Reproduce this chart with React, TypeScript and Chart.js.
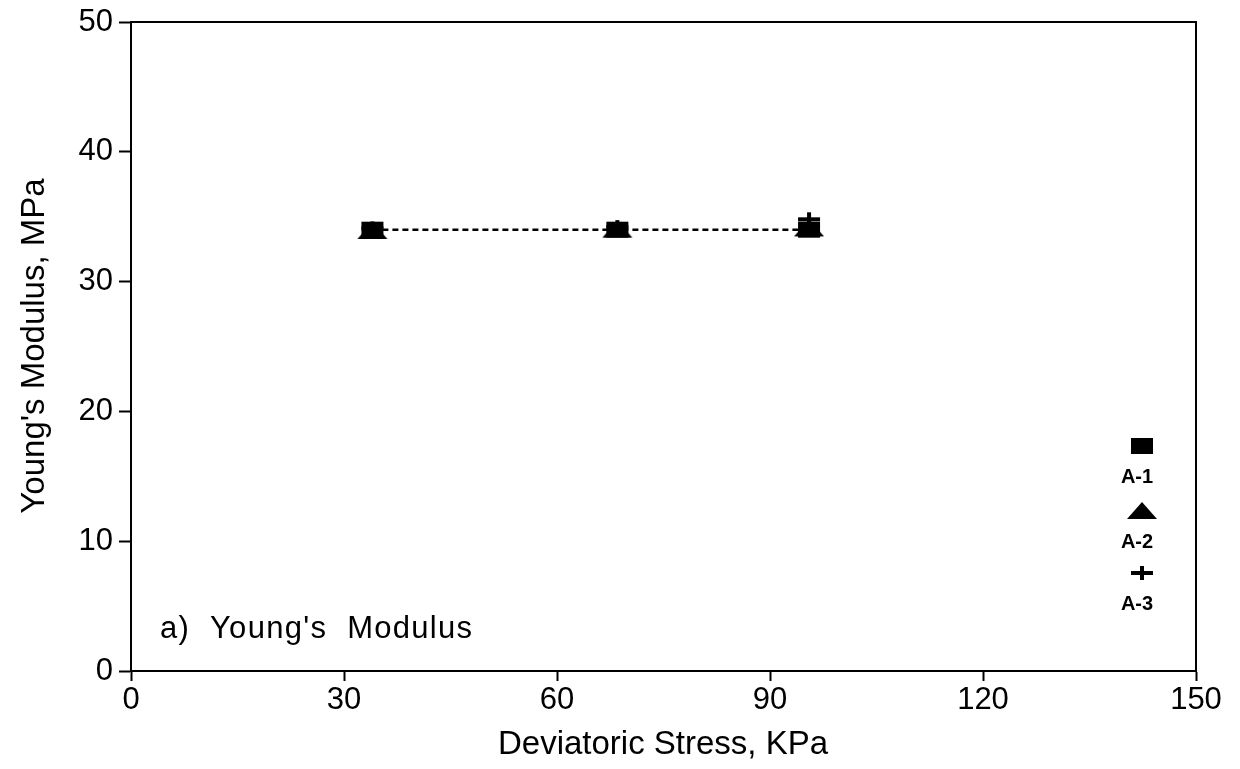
import React, { useEffect, useRef } from "react";
import { Chart, registerables } from "chart.js";

Chart.register(...registerables);

// Deviatoric stress (KPa) at each load step
const stressA1 = [34, 68.5, 95.5];
const stressA2 = [34, 68.5, 95.5];
const stressA3 = [34, 68.5, 95.5];

// Young's modulus (MPa) per specimen
const modulusA1 = [34.0, 34.0, 34.0];
const modulusA2 = [33.9, 34.0, 34.1];
const modulusA3 = [34.1, 34.2, 34.8];

const seriesNames = ["A-1", "A-2", "A-3"];
const xTicks = [0, 30, 60, 90, 120, 150];
const yTicks = [0, 10, 20, 30, 40, 50];

const xTitle = "Deviatoric Stress, KPa";
const yTitle = "Young's Modulus, MPa";
const panelLabel = "a)  Young's  Modulus";

const FONT = "'Liberation Sans', Arial, Helvetica, sans-serif";

function makeMarker(kind: string): HTMLCanvasElement {
  const c = document.createElement("canvas");
  const w = 32;
  const h = 24;
  c.width = w;
  c.height = h;
  const ctx = c.getContext("2d")!;
  ctx.fillStyle = "#000";
  ctx.strokeStyle = "#000";
  if (kind === "rect") {
    ctx.fillRect(w / 2 - 11, h / 2 - 8, 22, 16);
  } else if (kind === "tri") {
    ctx.beginPath();
    ctx.moveTo(w / 2, h / 2 - 9);
    ctx.lineTo(w / 2 + 15, h / 2 + 8);
    ctx.lineTo(w / 2 - 15, h / 2 + 8);
    ctx.closePath();
    ctx.fill();
  } else {
    ctx.lineWidth = 4;
    ctx.beginPath();
    ctx.moveTo(w / 2 - 11, h / 2);
    ctx.lineTo(w / 2 + 11, h / 2);
    ctx.moveTo(w / 2, h / 2 - 7);
    ctx.lineTo(w / 2, h / 2 + 7);
    ctx.stroke();
  }
  return c;
}

export default function App() {
  const canvasRef = useRef<HTMLCanvasElement | null>(null);

  useEffect(() => {
    document.body.style.margin = "0";
    const canvas = canvasRef.current;
    if (!canvas) return;

    const markers = [makeMarker("rect"), makeMarker("tri"), makeMarker("plus")];

    const framePlugin = {
      id: "frameAndText",
      afterDraw(chart: any) {
        const { ctx, chartArea } = chart;
        const { left, right, top, bottom } = chartArea;
        ctx.save();
        // top and right frame lines
        ctx.strokeStyle = "#000";
        ctx.lineWidth = 2;
        ctx.beginPath();
        ctx.moveTo(left, top);
        ctx.lineTo(right, top);
        ctx.lineTo(right, bottom);
        ctx.stroke();

        ctx.fillStyle = "#000";
        // axis titles
        ctx.font = `33px ${FONT}`;
        ctx.textAlign = "center";
        ctx.textBaseline = "alphabetic";
        ctx.fillText(xTitle, 663, 754);
        ctx.save();
        ctx.translate(44, 346);
        ctx.rotate(-Math.PI / 2);
        ctx.fillText(yTitle, 0, 0);
        ctx.restore();

        // panel label
        ctx.font = `31px ${FONT}`;
        ctx.textAlign = "left";
        (ctx as any).letterSpacing = "1.3px";
        ctx.fillText(panelLabel, 160, 638);
        (ctx as any).letterSpacing = "0px";

        // legend: marker above name, stacked
        const legendRows = [
          { my: 446, ty: 483 },
          { my: 511, ty: 548 },
          { my: 573, ty: 610 },
        ];
        ctx.font = `bold 20px ${FONT}`;
        ctx.textAlign = "center";
        legendRows.forEach((row, i) => {
          const m = markers[i];
          ctx.drawImage(m, 1142 - m.width / 2, row.my - m.height / 2);
          ctx.fillText(seriesNames[i], 1137, row.ty);
        });
        ctx.restore();
      },
    };

    const toPoints = (xs: number[], ys: number[]) => xs.map((x, i) => ({ x, y: ys[i] }));

    const chart = new Chart(canvas, {
      type: "scatter",
      data: {
        datasets: [
          {
            label: seriesNames[0],
            data: toPoints(stressA1, modulusA1),
            showLine: true,
            borderColor: "#000",
            borderWidth: 2.5,
            borderDash: [6, 4],
            pointStyle: markers[0],
            pointRadius: 10,
          },
          {
            label: seriesNames[1],
            data: toPoints(stressA2, modulusA2),
            showLine: false,
            pointStyle: markers[1],
            pointRadius: 10,
          },
          {
            label: seriesNames[2],
            data: toPoints(stressA3, modulusA3),
            showLine: false,
            pointStyle: markers[2],
            pointRadius: 10,
          },
        ],
      },
      options: {
        responsive: false,
        animation: false,
        devicePixelRatio: 1,
        layout: { padding: { left: 0, top: 22, right: 44, bottom: 0 } },
        plugins: {
          legend: { display: false },
          tooltip: { enabled: false },
          title: { display: false },
        },
        scales: {
          x: {
            type: "linear",
            min: 0,
            max: 150,
            afterBuildTicks: (scale: any) => {
              scale.ticks = xTicks.map((v) => ({ value: v }));
            },
            afterFit: (scale: any) => {
              scale.height = 98;
              scale.paddingRight = 0;
              scale.paddingLeft = 0;
            },
            border: { display: true, color: "#000", width: 2 },
            grid: {
              drawOnChartArea: false,
              drawTicks: true,
              tickLength: 10,
              tickWidth: 2,
              tickColor: "#000",
            },
            ticks: {
              color: "#000",
              font: { family: FONT, size: 31 },
              padding: 1,
              maxRotation: 0,
              autoSkip: false,
            },
          },
          y: {
            type: "linear",
            min: 0,
            max: 50,
            afterBuildTicks: (scale: any) => {
              scale.ticks = yTicks.map((v) => ({ value: v }));
            },
            afterFit: (scale: any) => {
              scale.width = 131;
              scale.paddingTop = 0;
              scale.paddingBottom = 0;
            },
            border: { display: true, color: "#000", width: 2 },
            grid: {
              drawOnChartArea: false,
              drawTicks: true,
              tickLength: 12,
              tickWidth: 2,
              tickColor: "#000",
            },
            ticks: {
              color: "#000",
              font: { family: FONT, size: 31 },
              padding: 6,
              autoSkip: false,
            },
          },
        },
      },
      plugins: [framePlugin],
    } as any);

    return () => chart.destroy();
  }, []);

  return (
    <div style={{ position: "fixed", left: 0, top: 0, width: 1240, height: 769, background: "#fff" }}>
      <canvas ref={canvasRef} width={1240} height={769} style={{ display: "block" }} />
    </div>
  );
}
